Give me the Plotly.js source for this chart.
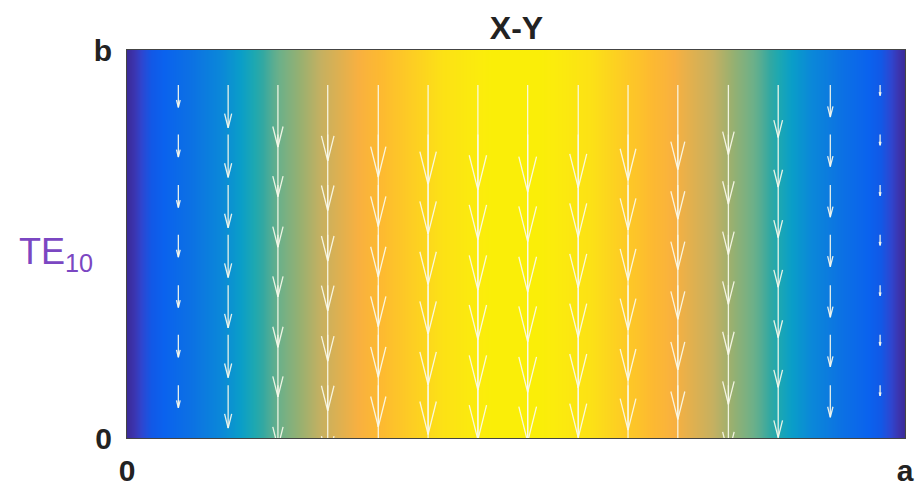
<!DOCTYPE html>
<html>
<head>
<meta charset="utf-8">
<script src="https://cdn.plot.ly/plotly-3.0.1.min.js"></script>
<style>html,body{margin:0;padding:0;background:#fff;}#chart{width:924px;height:487px;}</style>
</head>
<body>
<div id="chart"></div>
<script>
// Field magnitude read across the guide width (x as fraction of a)
var fieldX = [0, 0.03125, 0.0625, 0.09375, 0.125, 0.15625, 0.1875, 0.21875, 0.25, 0.28125, 0.3125, 0.34375, 0.375, 0.40625, 0.4375, 0.46875, 0.5,
              0.53125, 0.5625, 0.59375, 0.625, 0.65625, 0.6875, 0.71875, 0.75, 0.78125, 0.8125, 0.84375, 0.875, 0.90625, 0.9375, 0.96875, 1];
var fieldZ = [0, 0.10, 0.20, 0.29, 0.38, 0.47, 0.56, 0.63, 0.71, 0.77, 0.83, 0.88, 0.92, 0.96, 0.98, 1.0, 1.0,
              1.0, 0.98, 0.96, 0.92, 0.88, 0.83, 0.77, 0.71, 0.63, 0.56, 0.47, 0.38, 0.29, 0.20, 0.10, 0];
var fieldY = [0, 0.5];

// Quiver arrows: column positions, row start positions, magnitudes (pointing -y)
var arrowX = [0.066, 0.130, 0.194, 0.258, 0.323, 0.387, 0.451, 0.515, 0.580, 0.644, 0.708, 0.773, 0.837, 0.904, 0.968];
var arrowY = [0.455, 0.391, 0.326, 0.262, 0.197, 0.133, 0.068];
var arrowMag = [0.21, 0.40, 0.58, 0.71, 0.86, 0.93, 0.98, 1.0, 0.96, 0.89, 0.79, 0.65, 0.49, 0.30, 0.10];

var xTickVals = [0, 1], xTickText = ['0', 'a'];
var yTickVals = [0, 0.5], yTickText = ['0', 'b'];

var parula = [
  [0, '#3b2a98'], [0.03, '#3b35b0'], [0.06, '#2e46d0'], [0.10, '#1258e6'], [0.15, '#0a62ee'],
  [0.25, '#0c70e4'], [0.37, '#0b88d8'], [0.44, '#0a9ec8'], [0.49, '#1ea8b0'], [0.52, '#32a8a2'],
  [0.58, '#6eb088'], [0.64, '#98b070'], [0.70, '#c2b062'], [0.76, '#e2b04e'], [0.80, '#f8b040'],
  [0.855, '#fdba30'], [0.89, '#fdc628'], [0.95, '#fcde18'], [0.99, '#fbec0c'], [1, '#faee08']
];

var zRows = fieldY.map(function(){ return fieldZ.slice(); });

var heat = {
  type: 'heatmap', x: fieldX, y: fieldY, z: zRows,
  zmin: 0, zmax: 1, zsmooth: 'best', colorscale: parula, showscale: false, hoverinfo: 'skip'
};

var scale = 0.138, alpha = 0.33, beta = 0.25;
var qx = [], qy = [];
arrowX.forEach(function(x0, i) {
  var L = arrowMag[i] * scale;
  arrowY.forEach(function(y0) {
    var yt = y0 - L;
    qx.push(x0, x0, null); qy.push(y0, yt, null);
    var hl = alpha * L, hw = alpha * beta * L;
    qx.push(x0 - hw, x0, x0 + hw, null); qy.push(yt + hl, yt, yt + hl, null);
  });
});
var quiver = {
  type: 'scatter', mode: 'lines', x: qx, y: qy,
  line: {color: 'rgba(250,250,235,0.92)', width: 1.3}, hoverinfo: 'skip', connectgaps: false
};

var tickFont = {family: 'Liberation Sans, Arial, sans-serif', size: 30, color: '#222', weight: 'bold'};

var layout = {
  width: 924, height: 487,
  margin: {l: 127, r: 19, t: 50, b: 49},
  paper_bgcolor: '#fff', plot_bgcolor: '#fff',
  showlegend: false,
  title: {text: '<b>X-Y</b>', font: {family: 'Liberation Sans, Arial, sans-serif', size: 32, color: '#222'},
          x: 0.559, xanchor: 'center', y: 0.943, yanchor: 'middle', xref: 'container', yref: 'container'},
  xaxis: {range: [0, 1], tickvals: xTickVals, ticktext: xTickText, tickfont: tickFont,
          showgrid: false, zeroline: false, ticks: '', ticklabelstandoff: 6,
          showline: true, linecolor: '#444', linewidth: 1, mirror: true, fixedrange: true},
  yaxis: {range: [0, 0.5], tickvals: yTickVals, ticktext: yTickText, tickfont: tickFont,
          showgrid: false, zeroline: false, ticks: '', ticklabelstandoff: 8,
          showline: true, linecolor: '#444', linewidth: 1, mirror: true, fixedrange: true},
  annotations: [{
    text: 'TE<sub>10</sub>', xref: 'paper', yref: 'paper', x: -0.141, y: 0.475,
    xanchor: 'left', yanchor: 'middle', showarrow: false,
    font: {family: 'Liberation Sans, Arial, sans-serif', size: 36, color: '#7b47c2'}
  }]
};

Plotly.newPlot('chart', [heat, quiver], layout, {staticPlot: true, displayModeBar: false});
</script>
</body>
</html>
